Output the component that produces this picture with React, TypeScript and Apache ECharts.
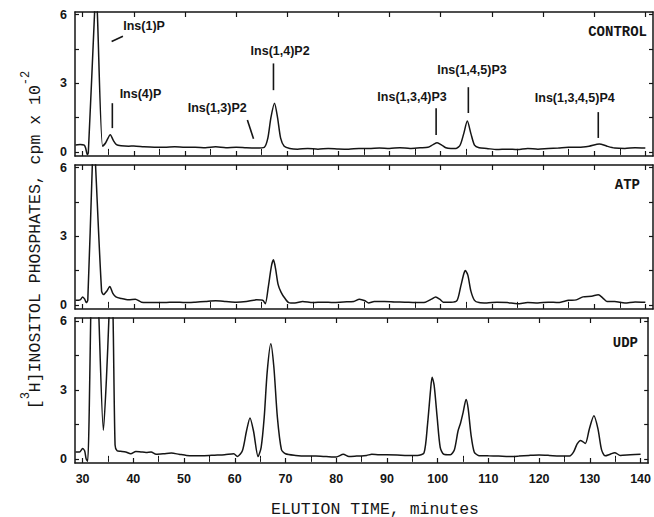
import React, { useEffect, useRef } from "react";
import * as echarts from "echarts";

// ---------- data ----------
const xMajorTicks = [30, 40, 50, 60, 70, 80, 90, 100, 110, 120, 130, 140];
const xMinorTicks = [35, 45, 55, 65, 75, 85, 95, 105, 115, 125, 135];
const yTickLabels = [0, 3, 6];
const yTicks = [0, 1.5, 3, 4.5, 6];
const panelNames = ["CONTROL", "ATP", "UDP"];

const controlTrace: [number, number][] = [
  [28.6, 0.3], [29.5, 0.32], [30.3, 0.3], [30.6, 0.15], [30.9, -0.12], [31.1, -0.05],
  [32.35, 6.2], [32.6, 7.2], [32.85, 6.2], [33.9, 0.25], [34.5, 0.4], [35.4, 0.75],
  [36.0, 0.5], [36.6, 0.32], [37.5, 0.27], [39, 0.25], [40, 0.26], [42, 0.22], [44, 0.2],
  [46, 0.2], [48, 0.22], [50, 0.2], [52, 0.2], [54, 0.18], [56, 0.22], [58, 0.18],
  [60, 0.2], [62, 0.18], [64, 0.17], [65.5, 0.2], [66.2, 0.6], [66.8, 1.5], [67.5, 2.13],
  [68.1, 1.5], [68.7, 0.6], [69.4, 0.25], [70.5, 0.15], [72, 0.12], [74, 0.15], [76, 0.12],
  [78, 0.15], [80, 0.13], [82, 0.12], [84, 0.15], [86, 0.15], [88, 0.17], [90, 0.15],
  [92, 0.18], [94, 0.15], [96, 0.18], [97.5, 0.2], [98.5, 0.32], [99.3, 0.4], [100.2, 0.3],
  [101, 0.18], [102, 0.15], [103, 0.15], [103.8, 0.3], [104.5, 0.8], [105.2, 1.35],
  [105.9, 0.8], [106.6, 0.3], [107.5, 0.18], [109, 0.15], [111, 0.1], [113, 0.12],
  [115, 0.1], [117, 0.15], [119, 0.12], [121, 0.15], [123, 0.17], [125, 0.2], [127, 0.2],
  [129, 0.25], [131, 0.35], [132.5, 0.25], [134, 0.17], [136, 0.15], [138, 0.18], [140, 0.17],
];

const atpTrace: [number, number][] = [
  [28.6, 0.2], [29.5, 0.22], [30.0, 0.35], [30.4, 0.25], [30.7, 0.1], [31.0, 0.2],
  [31.9, 6.2], [32.2, 7.5], [32.5, 6.2], [33.7, 0.6], [34.1, 0.45], [34.7, 0.6], [35.3, 0.8],
  [35.9, 0.5], [36.5, 0.35], [37.5, 0.28], [39, 0.22], [40.3, 0.25], [41.5, 0.12], [44, 0.1],
  [46, 0.1], [48, 0.12], [50, 0.1], [52, 0.12], [54, 0.15], [56, 0.18], [58, 0.15], [60, 0.12],
  [62, 0.15], [64, 0.22], [65.2, 0.2], [65.7, 0.05], [66.3, 0.8], [66.9, 1.7], [67.3, 1.97],
  [67.7, 1.6], [68.2, 0.9], [68.8, 0.55], [69.5, 0.3], [70.3, 0.1], [71.5, 0.08], [73, 0.15],
  [75, 0.1], [77, 0.12], [79, 0.1], [81, 0.13], [83, 0.15], [84.1, 0.25], [85.2, 0.18],
  [85.9, 0.08], [87, 0.15], [89, 0.15], [91, 0.13], [93, 0.12], [95, 0.1], [97, 0.12],
  [98.2, 0.25], [99, 0.35], [99.8, 0.25], [100.5, 0.12], [102, 0.12], [103.2, 0.2],
  [103.9, 0.8], [104.5, 1.35], [104.8, 1.5], [105.3, 1.3], [105.9, 0.6], [106.6, 0.2],
  [107.5, 0.1], [109, 0.08], [111, 0.12], [113, 0.1], [115, 0.05], [117, 0.1], [119, 0.08],
  [121, 0.12], [123, 0.1], [125, 0.2], [126.5, 0.22], [127.8, 0.35], [129.5, 0.38],
  [130.8, 0.44], [131.7, 0.3], [132.5, 0.15], [134, 0.15], [136, 0.08], [138, 0.13], [140, 0.12],
];

const udpTrace: [number, number][] = [
  [28.6, 0.3], [29.4, 0.3], [30.0, 0.45], [30.4, 0.35], [30.7, 0.0], [31.0, -0.1],
  [31.3, 2.0], [31.6, 6.2], [32.0, 10], [32.6, 10], [33.2, 6.2], [34.1, 1.24], [34.7, 3.5],
  [35.2, 6.2], [35.6, 9], [36.0, 6.2], [36.4, 0.6], [36.8, 0.35], [37.5, 0.33], [38.5, 0.3],
  [39.5, 0.22], [40.5, 0.32], [41.5, 0.3], [42.5, 0.28], [43.5, 0.3], [44.5, 0.2], [46, 0.22],
  [47.5, 0.25], [49, 0.2], [50.5, 0.15], [52, 0.14], [54, 0.14], [56, 0.16], [58, 0.18],
  [59.8, 0.22], [60.5, 0.1], [61.5, 0.35], [62.3, 1.2], [63.0, 1.78], [63.7, 1.2], [64.6, 0.1],
  [65.2, 0.5], [65.8, 1.8], [66.4, 3.8], [67.1, 5.0], [67.7, 4.0], [68.4, 1.8], [69.2, 0.4],
  [70, 0.22], [72, 0.15], [74, 0.12], [76, 0.12], [78, 0.1], [80, 0.08], [81.4, 0.2],
  [82.5, 0.1], [84, 0.12], [86, 0.15], [87, 0.2], [88.5, 0.18], [90, 0.18], [92, 0.17],
  [94, 0.15], [96, 0.15], [97.3, 0.25], [98.0, 1.5], [98.6, 3.0], [98.9, 3.55], [99.3, 3.2],
  [99.9, 1.8], [100.5, 0.5], [101.2, 0.2], [102.5, 0.18], [103.3, 0.4], [104.0, 1.2],
  [104.5, 1.55], [105.0, 2.0], [105.6, 2.58], [106.0, 2.2], [106.6, 1.0], [107.2, 0.3],
  [108, 0.15], [110, 0.13], [112, 0.12], [114, 0.1], [116, 0.12], [118, 0.15], [120, 0.17],
  [122, 0.15], [124, 0.12], [126, 0.12], [126.8, 0.3], [127.5, 0.65], [128.2, 0.8],
  [129.1, 0.67], [129.9, 1.3], [130.8, 1.87], [131.6, 1.3], [132.3, 0.4], [133, 0.13],
  [134, 0.2], [134.9, 0.27], [136, 0.15], [138, 0.18], [140, 0.2],
];

const traces = [controlTrace, atpTrace, udpTrace];

// peak annotations in CONTROL panel: label, label position [x, y], pointer line [x1,y1,x2,y2]
const peakLabels = ["Ins(1)P", "Ins(4)P", "Ins(1,3)P2", "Ins(1,4)P2", "Ins(1,3,4)P3", "Ins(1,4,5)P3", "Ins(1,3,4,5)P4"];
const peakLabelPos: [number, number][] = [
  [42.0, 5.52], [41.3, 2.52], [56.3, 1.91], [68.6, 4.43], [94.4, 2.39], [106.1, 3.57], [126.2, 2.35],
];
const peakPointers: [number, number, number, number][] = [
  [35.66, 4.83, 37.87, 5.06], [35.8, 2.13, 35.8, 1.04], [62.2, 1.39, 63.4, 0.57],
  [67.3, 3.87, 67.3, 2.7], [99.1, 1.91, 99.1, 0.74], [105.4, 2.83, 105.4, 1.7],
  [130.8, 1.74, 130.8, 0.61],
];

// ---------- layout ----------
const X_MIN = 28.5;
const X_MAX = 141.5;
const Y_MIN = -0.18;
const Y_MAX = 6.12;
const gridTops = [12, 165, 318];
const gridHeights = [144, 144, 145];
const INK = "#151515";

export default function App() {
  const ref = useRef<HTMLDivElement>(null);

  useEffect(() => {
    if (!ref.current) return;
    const chart = echarts.init(ref.current, undefined, { renderer: "svg" });

    const grids = gridTops.map((t, i) => ({ left: 75, width: 578, top: t, height: gridHeights[i] }));
    const xAxes: any[] = [];
    const yAxes: any[] = [];
    gridTops.forEach((_, i) => {
      const base = {
        type: "value", gridIndex: i, min: X_MIN, max: X_MAX,
        splitLine: { show: false },
        axisLine: { show: true, onZero: false, lineStyle: { color: INK, width: 1.5 } },
      };
      xAxes.push({
        ...base, position: "bottom",
        axisTick: { show: true, inside: true, length: 5, customValues: xMajorTicks, lineStyle: { color: INK, width: 1.2 } },
        axisLabel: {
          show: i === 2, customValues: xMajorTicks, margin: 9, color: INK,
          fontFamily: "Liberation Sans", fontWeight: "bold", fontSize: 12.5,
        },
      });
      xAxes.push({
        ...base, position: "bottom", axisLine: { show: false },
        axisTick: { show: true, inside: true, length: 3, customValues: xMinorTicks, lineStyle: { color: INK, width: 1 } },
        axisLabel: { show: false },
      });
      xAxes.push({
        ...base, position: "top",
        axisTick: { show: true, inside: true, length: 5, customValues: xMajorTicks, lineStyle: { color: INK, width: 1.2 } },
        axisLabel: { show: false },
      });
      xAxes.push({
        ...base, position: "top", axisLine: { show: false },
        axisTick: { show: true, inside: true, length: 3, customValues: xMinorTicks, lineStyle: { color: INK, width: 1 } },
        axisLabel: { show: false },
      });
      const ybase = {
        type: "value", gridIndex: i, min: Y_MIN, max: Y_MAX,
        splitLine: { show: false },
        axisLine: { show: true, onZero: false, lineStyle: { color: INK, width: 1.5 } },
        axisTick: { show: true, inside: true, length: 4, customValues: yTicks, lineStyle: { color: INK, width: 1.2 } },
      };
      yAxes.push({
        ...ybase, position: "left",
        axisLabel: {
          show: true, customValues: yTickLabels, margin: 8, color: INK,
          fontFamily: "Liberation Sans", fontWeight: "bold", fontSize: 12.5,
        },
      });
      yAxes.push({ ...ybase, position: "right", axisLabel: { show: false } });
    });

    const series = traces.map((tr, i) => ({
      type: "line",
      xAxisIndex: i * 4,
      yAxisIndex: i * 2,
      data: tr,
      showSymbol: false,
      smooth: 0.25,
      clip: true,
      lineStyle: { color: INK, width: 1.5 },
      silent: true,
    }));

    chart.setOption({
      animation: false,
      backgroundColor: "#ffffff",
      grid: grids,
      xAxis: xAxes,
      yAxis: yAxes,
      series,
    });

    const toPx = (gi: number, x: number, y: number) =>
      chart.convertToPixel({ gridIndex: gi }, [x, y]) as number[];

    const graphics: any[] = [];
    peakLabels.forEach((lab, k) => {
      const p = toPx(0, peakLabelPos[k][0], peakLabelPos[k][1]);
      graphics.push({
        type: "text", x: p[0], y: p[1],
        style: {
          text: lab, fill: INK, fontFamily: "Liberation Sans", fontWeight: "bold", fontSize: 12.5,
          textAlign: "center", textVerticalAlign: "middle",
        },
      });
      const a = toPx(0, peakPointers[k][0], peakPointers[k][1]);
      const b = toPx(0, peakPointers[k][2], peakPointers[k][3]);
      graphics.push({
        type: "line",
        shape: { x1: a[0], y1: a[1], x2: b[0], y2: b[1] },
        style: { stroke: INK, lineWidth: 1.6 },
      });
    });

    const panelLabelRight = [647, 640, 638];
    const panelLabelY = [32, 185, 343];
    panelNames.forEach((n, i) => {
      graphics.push({
        type: "text", x: panelLabelRight[i], y: panelLabelY[i],
        style: {
          text: n, fill: INK, fontFamily: "Liberation Mono", fontWeight: "bold", fontSize: 14,
          textAlign: "right", textVerticalAlign: "middle",
        },
      });
    });

    graphics.push({
      type: "text", x: 375, y: 509,
      style: {
        text: "ELUTION TIME, minutes", fill: INK, fontFamily: "Liberation Mono", fontSize: 16.5,
        textAlign: "center", textVerticalAlign: "middle",
      },
    });
    graphics.push({
      type: "text", x: 32, y: 240, rotation: Math.PI / 2,
      style: {
        text: "{n|[}{s|3}{n|H]INOSITOL PHOSPHATES, cpm x 10}{s|-2}",
        fill: INK, fontFamily: "Liberation Mono", fontSize: 16.5,
        textAlign: "center", textVerticalAlign: "middle",
        rich: {
          n: { fontFamily: "Liberation Mono", fontSize: 16.5, lineHeight: 24, verticalAlign: "bottom", fill: INK },
          s: { fontFamily: "Liberation Mono", fontSize: 12, lineHeight: 24, verticalAlign: "top", fill: INK },
        },
      },
    });

    chart.setOption({ graphic: graphics });

    return () => chart.dispose();
  }, []);

  return <div ref={ref} style={{ width: 654, height: 517, position: "absolute", left: 0, top: 0 }} />;
}
